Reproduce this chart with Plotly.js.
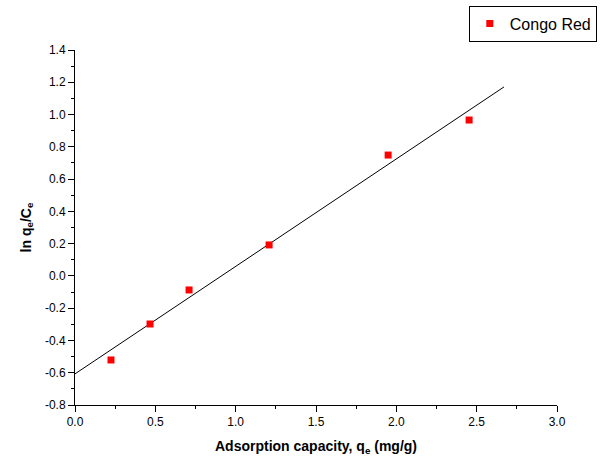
<!DOCTYPE html>
<html>
<head>
<meta charset="utf-8">
<script src="https://cdn.plot.ly/plotly-3.0.1.min.js"></script>
<style>html,body{margin:0;padding:0;background:#fff;}#chart{width:602px;height:460px;}</style>
</head>
<body>
<div id="chart"></div>
<script>
const qe = [0.224, 0.467, 0.71, 1.208, 1.949, 2.453];
const lnQeCe = [-0.521, -0.298, -0.087, 0.192, 0.749, 0.966];
const fitX = [0, 2.67];
const fitY = [-0.607, 1.171];
const seriesName = 'Congo Red';
const yTickVals = [-0.8, -0.6, -0.4, -0.2, 0.0, 0.2, 0.4, 0.6, 0.8, 1.0, 1.2, 1.4];
const yTickText = ['-0.8', '-0.6', '-0.4', '-0.2', '0.0', '0.2', '0.4', '0.6', '0.8', '1.0', '1.2', '1.4'];

const traces = [
  {x: fitX, y: fitY, mode: 'lines', line: {color: '#000', width: 1}, showlegend: false, hoverinfo: 'skip'},
  {x: qe, y: lnQeCe, mode: 'markers', name: seriesName,
   marker: {symbol: 'square', color: '#ff0000', size: 7}}
];

const axisCommon = {
  showgrid: false, zeroline: false, showline: true, linecolor: '#000', linewidth: 1,
  ticks: 'outside', ticklen: 6, tickwidth: 1, tickcolor: '#000',
  tickfont: {family: 'Arial, Liberation Sans, sans-serif', size: 12, color: '#000'}
};

const layout = {
  width: 602, height: 460,
  margin: {l: 75, r: 45, t: 50, b: 55, autoexpand: false},
  paper_bgcolor: '#fff', plot_bgcolor: '#fff',
  font: {family: 'Arial, Liberation Sans, sans-serif', color: '#000'},
  xaxis: Object.assign({}, axisCommon, {
    range: [0, 3.0], dtick: 0.5, tickformat: '.1f',
    minor: {dtick: 0.25, ticks: 'outside', ticklen: 3, tickcolor: '#000'},
    title: {text: '<b>Adsorption capacity, q<sub>e</sub> (mg/g)</b>', font: {size: 14}, standoff: 12}
  }),
  yaxis: Object.assign({}, axisCommon, {
    range: [-0.8, 1.4], tickmode: 'array', tickvals: yTickVals, ticktext: yTickText,
    minor: {dtick: 0.1, ticks: 'outside', ticklen: 3, tickcolor: '#000'},
    title: {text: '<b>ln q<sub>e</sub>/C<sub>e</sub></b>', font: {size: 14}, standoff: 10}
  }),
  showlegend: true,
  legend: {x: 0.817, y: 1.125, xanchor: 'left', yanchor: 'top',
    bordercolor: '#000', borderwidth: 1, bgcolor: '#fff',
    font: {size: 16, family: 'Arial, Liberation Sans, sans-serif'}}
};

Plotly.newPlot('chart', traces, layout, {displayModeBar: false, staticPlot: true});
</script>
</body>
</html>
